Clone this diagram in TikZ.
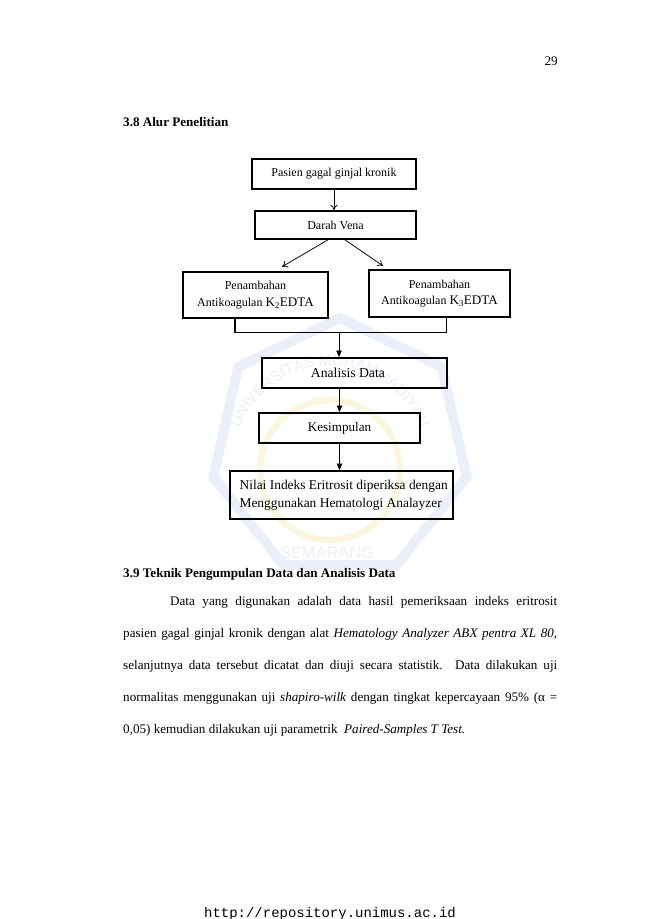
\documentclass[tikz,border=0pt,12pt]{standalone}
\usepackage{fontspec}
\setmainfont{Liberation Serif}
\setsansfont{Liberation Sans}
\setmonofont{Liberation Mono}
\usetikzlibrary{arrows.meta,shapes.geometric,decorations.text}
\definecolor{wmbiru}{RGB}{234,239,249}
\definecolor{wmkuning}{RGB}{250,246,224}
\tikzset{
	kotak/.style={draw, line width=1.6pt, inner sep=0pt, align=center, font=\fontsize{11}{15}\selectfont},
	teks/.style={inner sep=0pt},
	panah/.style={-{To[length=5pt,width=7pt]}, line width=0.7pt},
	panahb/.style={-{Triangle[length=6pt,width=5pt]}, line width=0.7pt},
	siku/.style={line width=1.3pt}
}
\begin{document}
\begin{tikzpicture}[x=0.9154pt,y=-0.9154pt]
		\useasboundingbox[fill=white] (0,0) rectangle (650,919);

		\node[regular polygon, regular polygon sides=7, minimum size=238pt, draw=wmbiru, line width=9pt] (logo) at (340,448) {};
		\draw[wmkuning, line width=6pt] (330,470) circle (70);
		\begin{scope}[shift={(330,462)}]
			\path[decorate, decoration={text along path, text align=center,
				text={|\sffamily\fontsize{14}{14}\selectfont\color{wmbiru}|UNIVERSITAS MUHAMMADIYAH}}]
				(195:88pt) arc[start angle=195, end angle=-15, radius=88pt];
		\end{scope}
		\node[teks, text=wmbiru, font=\sffamily\fontsize{15}{15}\selectfont] (kota) at (327,553) {SEMARANG};

		\node[teks, anchor=base east] (hal) at (558,66) {29};
		\node[teks, anchor=base west, font=\bfseries] (judul1) at (123,127) {3.8 Alur Penelitian};

		\node[kotak, minimum width=150pt, minimum height=27.5pt] (pasien) at (334,174) {Pasien gagal ginjal kronik};
		\node[kotak, minimum width=147.4pt, minimum height=25.6pt] (vena) at (335.5,225) {Darah Vena};
		\node[kotak, minimum width=132.7pt, minimum height=42.1pt] (k2) at (255.5,295) {Penambahan\\Antikoagulan {\fontsize{12}{15}\selectfont K\textsubscript{2}EDTA}};
		\node[kotak, minimum width=129.1pt, minimum height=43pt] (k3) at (439.5,293.5) {Penambahan\\Antikoagulan {\fontsize{12}{15}\selectfont K\textsubscript{3}EDTA}};
		\node[kotak, font=\fontsize{12.5}{14}\selectfont, minimum width=169.4pt, minimum height=27.5pt] (analisis) at (354.5,373) {\hspace*{-12pt}Analisis Data};
		\node[kotak, font=\fontsize{12}{14}\selectfont, minimum width=147.4pt, minimum height=27.5pt] (simpul) at (339.5,428) {Kesimpulan};
		\node[kotak, font=\fontsize{12.3}{16.5}\selectfont, align=left, minimum width=204.1pt, minimum height=43.9pt] (nilai) at (341.5,495) {\hspace*{4pt}Nilai Indeks Eritrosit diperiksa dengan\\\hspace*{4pt}Menggunakan Hematologi Analayzer};

		\coordinate (kiri) at ([xshift=-18.8pt]k2.south);
		\coordinate (kanan) at ([xshift=6.6pt]k3.south);
		\coordinate (gabung) at (339,332.5);

		\draw[panah] (pasien.south) -- (pasien.south |- vena.north);
		\draw[panah] ([xshift=-6.9pt]vena.south) -- ([xshift=24.3pt,yshift=4pt]k2.north);
		\draw[panah] ([xshift=8.7pt]vena.south) -- ([xshift=-51.7pt,yshift=3pt]k3.north);
		\draw[siku] (kiri) -- (kiri |- gabung) -- (kanan |- gabung) -- (kanan);
		\draw[panahb] (gabung) -- (gabung |- analisis.north);
		\draw[panahb] (analisis.south -| simpul.north) -- (simpul.north);
		\draw[panahb] (simpul.south) -- (simpul.south |- nilai.north);

		\node[teks, anchor=base west, font=\bfseries] (judul2) at (123,577) {3.9 Teknik Pengumpulan Data dan Analisis Data};
		\node[teks, anchor=base west, align=justify, text width=397.3pt, font=\fontsize{12}{29.3}\selectfont] (isi) at (123,605) {%
			\hspace*{43pt}Data yang digunakan adalah data hasil pemeriksaan indeks eritrosit\linebreak
			pasien gagal ginjal kronik dengan alat \textit{Hematology Analyzer ABX pentra XL 80},\linebreak
			selanjutnya data tersebut dicatat dan diuji secara statistik. Data dilakukan uji\linebreak
			normalitas menggunakan uji \textit{shapiro-wilk} dengan tingkat kepercayaan 95\% (α~=\linebreak
			0,05) kemudian dilakukan uji parametrik \ \textit{Paired-Samples T Test.}\par};

		\node[teks, anchor=base, font=\ttfamily\fontsize{12.8}{14}\selectfont] (url) at (330,917) {http://repository.unimus.ac.id};
	\end{tikzpicture}
\end{document}
